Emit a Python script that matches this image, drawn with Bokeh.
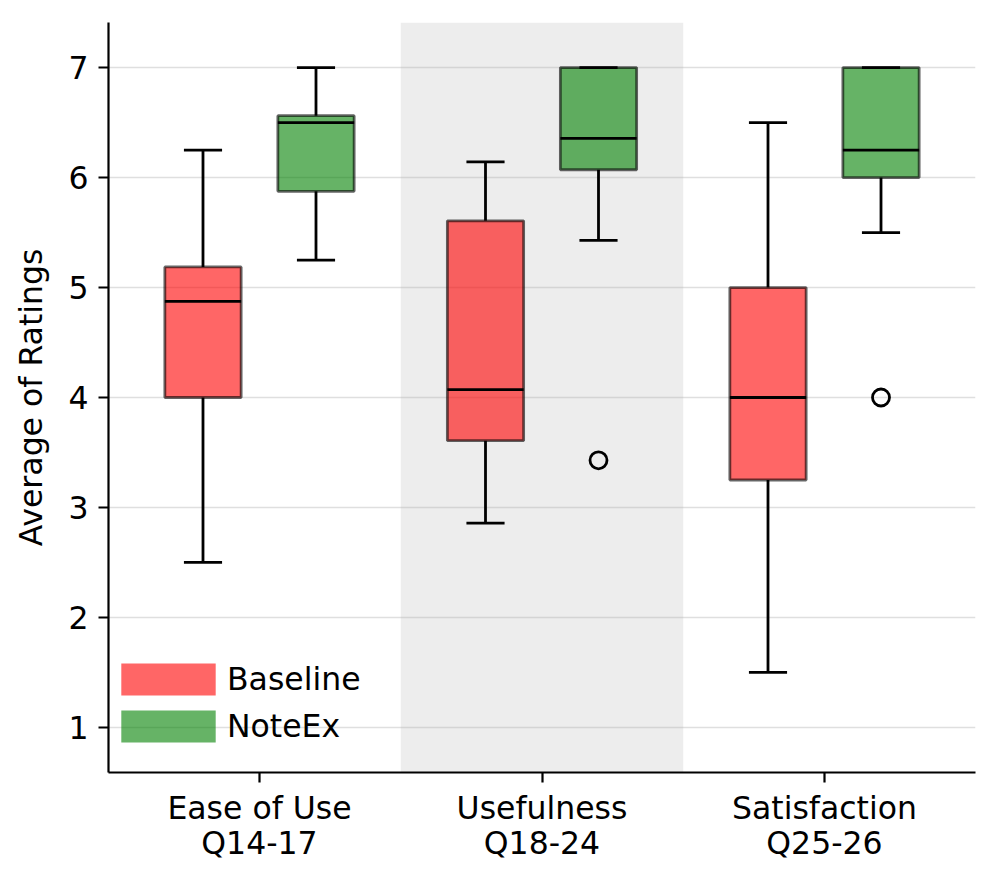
from bokeh.plotting import figure
from bokeh.models import ColumnDataSource, FixedTicker, Range1d, BoxAnnotation, Legend, LegendItem
from bokeh.embed import file_html
from bokeh.resources import INLINE

# ---- data ----
categories = ["Ease of Use\nQ14-17", "Usefulness\nQ18-24", "Satisfaction\nQ25-26"]
y_ticks = [1, 2, 3, 4, 5, 6, 7]

baseline_low = [2.5, 2.857, 1.5]
baseline_q1 = [4.0, 3.607, 3.25]
baseline_med = [4.875, 4.071, 4.0]
baseline_q3 = [5.1875, 5.607, 5.0]
baseline_high = [6.25, 6.143, 6.5]

noteex_low = [5.25, 5.429, 5.5]
noteex_q1 = [5.875, 6.071, 6.0]
noteex_med = [6.5, 6.357, 6.25]
noteex_q3 = [6.5625, 7.0, 7.0]
noteex_high = [7.0, 7.0, 7.0]

noteex_outlier_cat = [1, 2]
noteex_outlier_val = [3.429, 4.0]

series = [
    ("Baseline", -0.2, "red", baseline_low, baseline_q1, baseline_med, baseline_q3, baseline_high, [], []),
    ("NoteEx", 0.2, "green", noteex_low, noteex_q1, noteex_med, noteex_q3, noteex_high,
     noteex_outlier_cat, noteex_outlier_val),
]

FONT = "DejaVu Sans"
FS = "31.5px"
BOX_W = 0.27
LW = 2.8

p = figure(width=990, height=875, output_backend="svg", toolbar_location=None,
           x_range=Range1d(-0.5345, 2.5345), y_range=Range1d(0.59, 7.41),
           min_border_left=108, min_border_right=15, min_border_top=22, min_border_bottom=103)

p.outline_line_color = None
p.background_fill_color = "white"

# highlighted middle category
band = BoxAnnotation(left=1 - 0.5, right=1 + 0.5, fill_color="#ededed", fill_alpha=1.0,
                     line_color=None, level="image")
p.add_layout(band)

legend_items = []
for name, off, color, lo, q1, med, q3, hi, ocat, oval in series:
    xs = [i + off for i in range(len(categories))]
    src = ColumnDataSource(dict(
        x=xs,
        left=[x - BOX_W / 2 for x in xs], right=[x + BOX_W / 2 for x in xs],
        cl=[x - BOX_W / 4 for x in xs], cr=[x + BOX_W / 4 for x in xs],
        lo=lo, q1=q1, med=med, q3=q3, hi=hi,
    ))
    # whiskers
    p.segment(x0="x", x1="x", y0="lo", y1="q1", source=src, line_color="black", line_width=LW)
    p.segment(x0="x", x1="x", y0="q3", y1="hi", source=src, line_color="black", line_width=LW)
    # boxes
    p.quad(left="left", right="right", bottom="q1", top="q3", source=src,
           fill_color=color, fill_alpha=0.6, line_color="black", line_alpha=0.6, line_width=LW)
    # medians
    p.segment(x0="left", x1="right", y0="med", y1="med", source=src, line_color="black", line_width=LW)
    # caps
    p.segment(x0="cl", x1="cr", y0="lo", y1="lo", source=src, line_color="black", line_width=LW)
    p.segment(x0="cl", x1="cr", y0="hi", y1="hi", source=src, line_color="black", line_width=LW)
    # outliers
    if ocat:
        osrc = ColumnDataSource(dict(x=[c + off for c in ocat], y=oval))
        p.scatter(x="x", y="y", source=osrc, marker="circle", size=17, fill_color=None,
                  line_color="black", line_width=LW)
    # legend proxy (not drawn in the plot area: NaN coordinates)
    nan = float("nan")
    proxy = p.quad(left=[nan], right=[nan], bottom=[nan], top=[nan],
                   fill_color=color, fill_alpha=0.6, line_color=None)
    legend_items.append(LegendItem(label=name, renderers=[proxy]))

legend = Legend(items=legend_items, location=(1, 26), padding=0, margin=0,
                background_fill_alpha=0, border_line_alpha=0,
                glyph_width=118, glyph_height=40, label_height=40, spacing=7, label_standoff=0,
                label_text_font=FONT, label_text_font_size=FS, label_text_color="black")
p.add_layout(legend)

# axes
p.xaxis.ticker = FixedTicker(ticks=list(range(len(categories))))
p.xaxis.major_label_overrides = {i: c for i, c in enumerate(categories)}
p.yaxis.ticker = FixedTicker(ticks=y_ticks)
p.yaxis.axis_label = "Average of Ratings"

for ax in (p.xaxis, p.yaxis):
    ax.axis_line_color = "black"
    ax.axis_line_width = 2.2
    ax.major_tick_line_color = "black"
    ax.major_tick_line_width = 2.2
    ax.major_tick_out = 10
    ax.major_tick_in = 0
    ax.minor_tick_line_color = None
    ax.major_label_text_font = FONT
    ax.major_label_text_font_size = FS
    ax.major_label_text_color = "black"
    ax.axis_label_text_font = FONT
    ax.axis_label_text_font_size = FS
    ax.axis_label_text_font_style = "normal"
    ax.axis_label_text_color = "black"

p.xaxis.major_label_standoff = 7
p.xaxis.major_label_text_line_height = 0.98
p.yaxis.major_label_standoff = 10
p.yaxis.axis_label_standoff = 16

p.xgrid.grid_line_color = None
p.ygrid.grid_line_color = "#b0b0b0"
p.ygrid.grid_line_alpha = 0.4
p.ygrid.grid_line_width = 1.4

open("out.html", "w").write(file_html(p, INLINE))
